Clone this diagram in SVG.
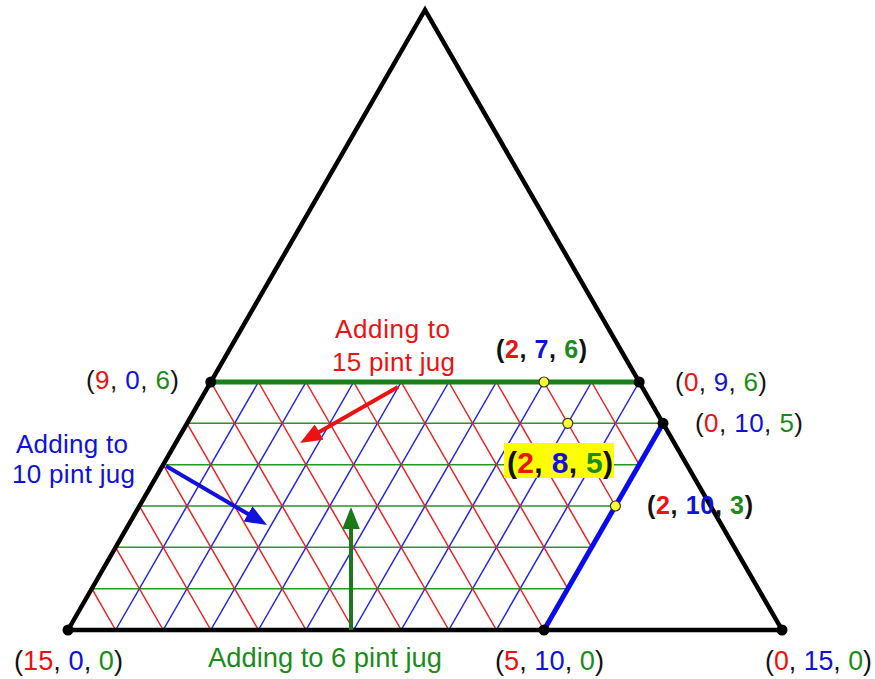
<svg xmlns="http://www.w3.org/2000/svg" width="875" height="679" viewBox="0 0 875 679">
<style>
text{font-family:"Liberation Sans",Arial,sans-serif;fill:#111}
.b{font-weight:bold}
.r{fill:#ee1111}.u{fill:#1111dd}.g{fill:#1a8c1a}
.gr line{stroke-width:1.5;fill:none}
.rl{stroke:#ee2222}.bl{stroke:#2222ee}.gl{stroke:#229922}
.dot{fill:#000}
.ydot{fill:#ffff33;stroke:#333;stroke-width:1.2}
</style>
<defs>
<marker id="ar" viewBox="0 0 5 4" refX="2.5" refY="2" markerWidth="5.5" markerHeight="4.4" orient="auto"><path d="M0,0L5,2L0,4Z" fill="#ee1111"/></marker>
<marker id="ab" viewBox="0 0 5 4" refX="2.5" refY="2" markerWidth="5.5" markerHeight="4.4" orient="auto"><path d="M0,0L5,2L0,4Z" fill="#1111dd"/></marker>
<marker id="ag" viewBox="0 0 5 4" refX="2.5" refY="2" markerWidth="5.5" markerHeight="4.4" orient="auto"><path d="M0,0L5,2L0,4Z" fill="#1a7a1a"/></marker>
</defs>
<g id="connectors">
<g class="gr" id="grid">
<line class="gl" x1="91.8" y1="588.67" x2="567.8" y2="588.67"/>
<line class="gl" x1="115.6" y1="547.33" x2="591.6" y2="547.33"/>
<line class="gl" x1="139.4" y1="506" x2="615.4" y2="506"/>
<line class="gl" x1="163.2" y1="464.67" x2="639.2" y2="464.67"/>
<line class="gl" x1="187" y1="423.33" x2="663" y2="423.33"/>
<line class="bl" x1="115.6" y1="630" x2="258.4" y2="382"/>
<line class="bl" x1="163.2" y1="630" x2="306" y2="382"/>
<line class="bl" x1="210.8" y1="630" x2="353.6" y2="382"/>
<line class="bl" x1="258.4" y1="630" x2="401.2" y2="382"/>
<line class="bl" x1="306" y1="630" x2="448.8" y2="382"/>
<line class="bl" x1="353.6" y1="630" x2="496.4" y2="382"/>
<line class="bl" x1="401.2" y1="630" x2="544" y2="382"/>
<line class="bl" x1="448.8" y1="630" x2="591.6" y2="382"/>
<line class="bl" x1="496.4" y1="630" x2="639.2" y2="382"/>
<line class="rl" x1="115.6" y1="630" x2="91.8" y2="588.67"/>
<line class="rl" x1="163.2" y1="630" x2="115.6" y2="547.33"/>
<line class="rl" x1="210.8" y1="630" x2="139.4" y2="506"/>
<line class="rl" x1="258.4" y1="630" x2="163.2" y2="464.67"/>
<line class="rl" x1="306" y1="630" x2="187" y2="423.33"/>
<line class="rl" x1="353.6" y1="630" x2="210.8" y2="382"/>
<line class="rl" x1="401.2" y1="630" x2="258.4" y2="382"/>
<line class="rl" x1="448.8" y1="630" x2="306" y2="382"/>
<line class="rl" x1="496.4" y1="630" x2="353.6" y2="382"/>
<line class="rl" x1="544" y1="630" x2="401.2" y2="382"/>
<line class="rl" x1="567.8" y1="588.67" x2="448.8" y2="382"/>
<line class="rl" x1="591.6" y1="547.33" x2="496.4" y2="382"/>
<line class="rl" x1="615.4" y1="506" x2="544" y2="382"/>
<line class="rl" x1="639.2" y1="464.67" x2="591.6" y2="382"/>
</g>
<line x1="210.8" y1="382" x2="639.2" y2="382" stroke="#1a801a" stroke-width="5"/>
<line x1="544" y1="630" x2="663" y2="423.33" stroke="#0a0af0" stroke-width="5"/>
<polygon points="68,630 425,10 782,630" fill="none" stroke="#000" stroke-width="4.5" stroke-linejoin="miter"/>
<line x1="398" y1="387" x2="309.6" y2="437.5" stroke="#ee1111" stroke-width="4" marker-end="url(#ar)"/>
<line x1="166" y1="466" x2="257.5" y2="519.5" stroke="#1111dd" stroke-width="4" marker-end="url(#ab)"/>
<line x1="351" y1="630" x2="351" y2="518" stroke="#1a7a1a" stroke-width="4" marker-end="url(#ag)"/>
</g>
<g id="n15-0-0"><circle class="dot" cx="68" cy="630" r="5.5"/><text x="14" y="670" font-size="27" textLength="109" lengthAdjust="spacingAndGlyphs">(<tspan class="r">15</tspan>, <tspan class="u">0</tspan>, <tspan class="g">0</tspan>)</text></g>
<g id="n5-10-0"><circle class="dot" cx="544" cy="630" r="5.5"/><text x="495" y="670" font-size="27" textLength="109" lengthAdjust="spacingAndGlyphs">(<tspan class="r">5</tspan>, <tspan class="u">10</tspan>, <tspan class="g">0</tspan>)</text></g>
<g id="n0-15-0"><circle class="dot" cx="782" cy="630" r="5.5"/><text x="765" y="670" font-size="27" textLength="107" lengthAdjust="spacingAndGlyphs">(<tspan class="r">0</tspan>, <tspan class="u">15</tspan>, <tspan class="g">0</tspan>)</text></g>
<g id="n9-0-6"><circle class="dot" cx="210.8" cy="382" r="5.5"/><text x="86" y="389" font-size="26" textLength="93">(<tspan class="r">9</tspan>, <tspan class="u">0</tspan>, <tspan class="g">6</tspan>)</text></g>
<g id="n0-9-6"><circle class="dot" cx="639.2" cy="382" r="5.5"/><text x="675" y="391" font-size="26" textLength="92">(<tspan class="r">0</tspan>, <tspan class="u">9</tspan>, <tspan class="g">6</tspan>)</text></g>
<g id="n0-10-5"><circle class="dot" cx="663" cy="423.33" r="5.5"/><text x="695" y="432" font-size="26" textLength="108">(<tspan class="r">0</tspan>, <tspan class="u">10</tspan>, <tspan class="g">5</tspan>)</text></g>
<g id="n2-7-6"><circle class="ydot" cx="544" cy="382" r="5"/><text class="b" x="496" y="358" font-size="25" textLength="91">(<tspan class="r">2</tspan>, <tspan class="u">7</tspan>, <tspan class="g">6</tspan>)</text></g>
<g id="n2-8-5"><circle class="ydot" cx="567.8" cy="423.33" r="5"/><rect x="504" y="443" width="110" height="35" fill="#ffff00"/><text class="b" x="507" y="473" font-size="30" textLength="106">(<tspan class="r">2</tspan>, <tspan class="u">8</tspan>, <tspan class="g">5</tspan>)</text></g>
<g id="n2-10-3"><circle class="ydot" cx="615.4" cy="506" r="5"/><text class="b" x="647" y="514" font-size="25" textLength="106">(<tspan class="r">2</tspan>, <tspan class="u">10</tspan>, <tspan class="g">3</tspan>)</text></g>
<g id="label-15"><text x="335" y="338" font-size="26" textLength="115" style="fill:#ee1111">Adding to</text><text x="332" y="371" font-size="26" textLength="123" style="fill:#ee1111">15 pint jug</text></g>
<g id="label-10"><text x="16" y="453" font-size="26" textLength="112" style="fill:#1111dd">Adding to</text><text x="12" y="483" font-size="26" textLength="123" style="fill:#1111dd">10 pint jug</text></g>
<g id="label-6"><text x="208" y="667" font-size="28" textLength="234" lengthAdjust="spacingAndGlyphs" style="fill:#1a8c1a">Adding to 6 pint jug</text></g>
</svg>
